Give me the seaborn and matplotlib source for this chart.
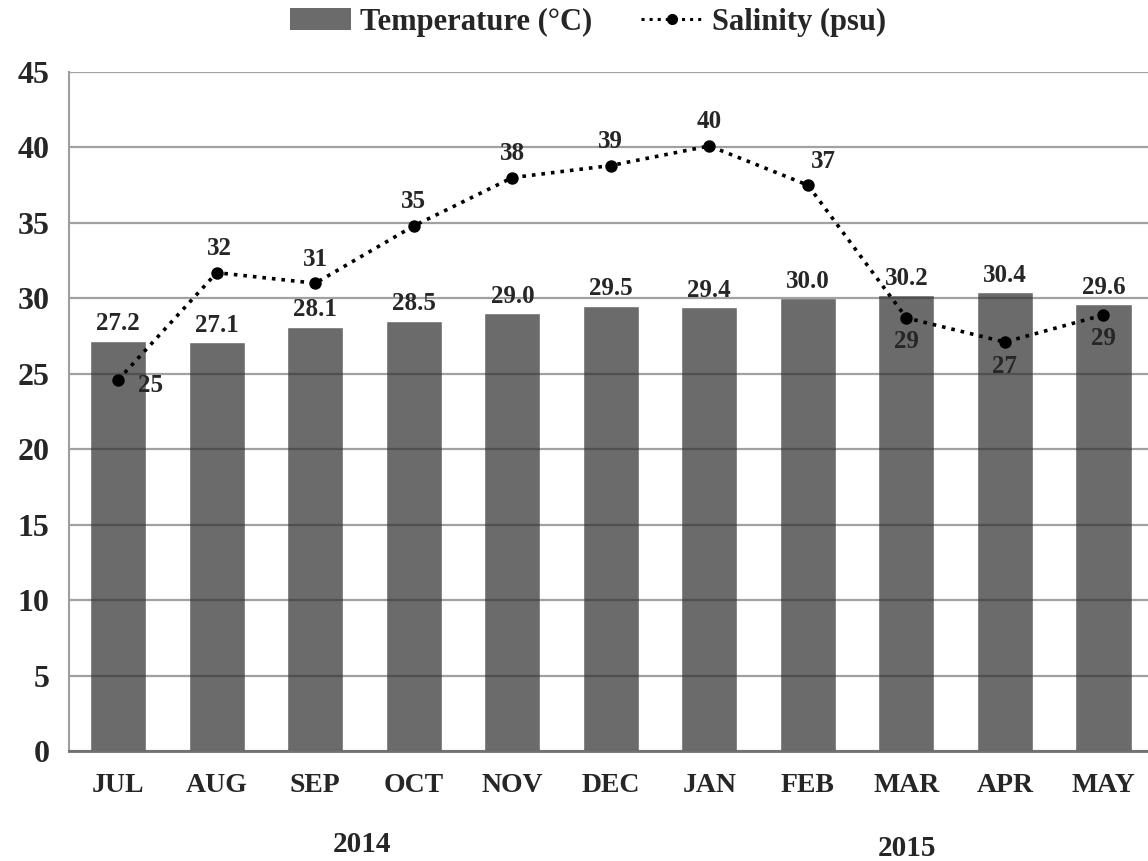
import numpy as np
import pandas as pd
import matplotlib
matplotlib.use('Agg')
import matplotlib.pyplot as plt
import seaborn as sns
from matplotlib.patches import Patch
from matplotlib.lines import Line2D

# Monthly values, Jul 2014 - May 2015
months = ['JUL', 'AUG', 'SEP', 'OCT', 'NOV', 'DEC', 'JAN', 'FEB', 'MAR', 'APR', 'MAY']
temperature = [27.2, 27.1, 28.1, 28.5, 29.0, 29.5, 29.4, 30.0, 30.2, 30.4, 29.6]
salinity = [24.6, 31.7, 31.0, 34.8, 38.0, 38.8, 40.1, 37.5, 28.7, 27.1, 28.9]
salinity_labels = ['25', '32', '31', '35', '38', '39', '40', '37', '29', '27', '29']
years = ['2014', '2015']

df = pd.DataFrame({'month': months, 'temp': temperature, 'sal': salinity})

sns.set_style('white')
plt.rcParams['font.family'] = ['Liberation Serif', 'DejaVu Serif']
plt.rcParams['font.weight'] = 'bold'

bar_color = '#6b6b6b'
grid_color = '#9e9e9e'

fig = plt.figure(figsize=(11.48, 8.61), dpi=100)
ax = fig.add_axes([0.0601, 0.1278, 0.944, 0.7886])

# grid sits over the bars but under the salinity line
ax.set_axisbelow('line')
ax.yaxis.grid(True, color='#303030', alpha=0.45, linewidth=1.6)

sns.barplot(data=df, x='month', y='temp', color=bar_color, saturation=1,
            width=0.57, ax=ax)
sns.pointplot(data=df, x='month', y='sal', color='black', linestyles=':',
              markers='o', markersize=7, linewidth=2.6, ax=ax)

# temperature labels above bars
for i, t in enumerate(temperature):
    ax.annotate(f'{t:.1f}', (i, t), xytext=(0, 4), textcoords='offset points',
                ha='center', va='bottom', fontsize=18, fontweight='bold')

# salinity labels, placed around the points
offsets = [(23, -4), (2, 9), (0, 9), (0, 9), (0, 9), (0, 9), (0, 9),
           (11, 9), (0, -9), (0, -9), (0, -9)]
for i, (s, lab) in enumerate(zip(salinity, salinity_labels)):
    dx, dy = offsets[i]
    va = 'bottom' if dy > 0 else 'top'
    if i == 0:
        va = 'center'
    ax.annotate(lab, (i, s), xytext=(dx, dy), textcoords='offset points',
                ha='center', va=va, fontsize=18, fontweight='bold')

ax.set_ylim(0, 45)
ax.set_yticks(range(0, 46, 5))
ax.set_xlim(-0.5, len(months) - 0.5)
ax.set_xlabel('')
ax.set_ylabel('')
ax.tick_params(axis='y', labelsize=23, length=0, pad=14)
ax.tick_params(axis='x', labelsize=20, length=0, pad=16)
for lab in ax.get_xticklabels() + ax.get_yticklabels():
    lab.set_fontweight('bold')

for side in ['top', 'right']:
    ax.spines[side].set_visible(False)
ax.spines['left'].set_color(grid_color)
ax.spines['left'].set_linewidth(1.5)
ax.spines['bottom'].set_color('#707070')
ax.spines['bottom'].set_linewidth(2)

# year labels
fig.text(362 / 1148, 1 - 845 / 861, years[0], ha='center', va='center',
         fontsize=21, fontweight='bold')
fig.text(907 / 1148, 1 - 848 / 861, years[1], ha='center', va='center',
         fontsize=21, fontweight='bold')

handles = [Patch(facecolor=bar_color, edgecolor='none'),
           Line2D([0], [0], color='black', linestyle=':', linewidth=2.2,
                  marker='o', markersize=7)]
fig.legend(handles, ['Temperature (°C)', 'Salinity (psu)'], loc='center',
           bbox_to_anchor=(0.512, 1 - 22 / 861), ncol=2, frameon=False,
           prop={'size': 22, 'weight': 'bold'}, handlelength=2.0,
           handletextpad=0.3, columnspacing=1.6)

fig.savefig('out.png', dpi=100)
